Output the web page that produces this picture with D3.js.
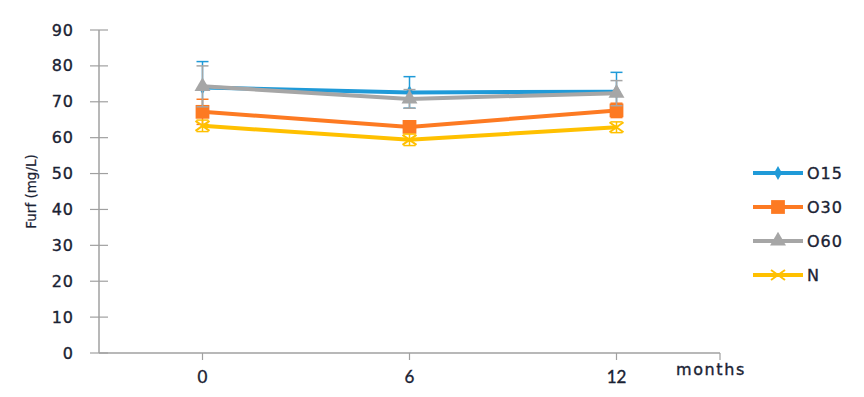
<!DOCTYPE html>
<html>
<head>
<meta charset="utf-8">
<script src="https://cdn.jsdelivr.net/npm/d3@7"></script>
<style>
  body { margin: 0; background: #fff; }
  svg text { fill: #1a2233; stroke: #1a2233; stroke-width: 0.35; }
</style>
</head>
<body>
<div id="chart"></div>
<script>
var months = ['0', '6', '12'];
var yTicks = [0, 10, 20, 30, 40, 50, 60, 70, 80, 90];
var seriesNames = ['O15', 'O30', 'O60', 'N'];
var o15 = [74.0, 72.6, 72.8];
var o15Err = [7.2, 4.4, 5.4];
var o30 = [67.2, 63.0, 67.6];
var o30Err = [3.5, 1.5, 2.0];
var o60 = [74.3, 70.8, 72.4];
var o60Err = [5.7, 2.6, 3.5];
var nVals = [63.3, 59.4, 62.9];
var nErr = [1.6, 1.6, 1.5];

var colors = ['#1f9ad8', '#fd7a22', '#a6a6a6', '#ffc000'];
var symbols = ['diamond', 'square', 'triangle', 'x'];
var series = [
  { name: seriesNames[0], values: o15, err: o15Err },
  { name: seriesNames[1], values: o30, err: o30Err },
  { name: seriesNames[2], values: o60, err: o60Err },
  { name: seriesNames[3], values: nVals, err: nErr }
];

var width = 864, height = 397;
var svg = d3.select('#chart')
    .append('svg')
    .attr('width', width)
    .attr('height', height);

var x = d3.scalePoint()
    .domain(months)
    .range([99, 720])
    .padding(0.5);
var y = d3.scaleLinear()
    .domain([0, 90])
    .range([353, 30]);

// y axis
var yAxis = svg.append('g').attr('transform', 'translate(99,0)');
yAxis.append('line')
    .attr('y1', y(0)).attr('y2', y(90))
    .attr('stroke', '#a0a0a0').attr('stroke-width', 1.5);
yAxis.selectAll('line.tick')
    .data(yTicks)
    .enter()
    .append('line')
    .classed('tick', true)
    .attr('x1', -9).attr('x2', 9)
    .attr('y1', function (d) { return y(d); })
    .attr('y2', function (d) { return y(d); })
    .attr('stroke', '#a0a0a0').attr('stroke-width', 1.2);
yAxis.selectAll('text')
    .data(yTicks)
    .enter()
    .append('text')
    .attr('x', -25)
    .attr('y', function (d) { return y(d); })
    .attr('text-anchor', 'end')
    .attr('dominant-baseline', 'central')
    .attr('font-family', 'DejaVu Sans, sans-serif')
    .attr('font-size', 16)
    .attr('letter-spacing', 1)
    .text(function (d) { return d; });

svg.append('text')
    .attr('transform', 'translate(31,' + y(45) + ') rotate(-90)')
    .attr('text-anchor', 'middle')
    .attr('dominant-baseline', 'central')
    .attr('font-family', 'DejaVu Sans, sans-serif')
    .attr('font-size', 13.5)
    .style('stroke-width', 0.2)
    .text('Furf (mg/L)');

// x axis
var xAxis = svg.append('g').attr('transform', 'translate(0,' + y(0) + ')');
xAxis.append('line')
    .attr('x1', 99).attr('x2', 720)
    .attr('stroke', '#a0a0a0').attr('stroke-width', 1.5);
xAxis.selectAll('line.tick')
    .data(months.map(function (m) { return x(m); }).concat([720]))
    .enter()
    .append('line')
    .classed('tick', true)
    .attr('x1', function (d) { return d; })
    .attr('x2', function (d) { return d; })
    .attr('y1', 0).attr('y2', 7)
    .attr('stroke', '#a0a0a0').attr('stroke-width', 1.2);
xAxis.selectAll('text')
    .data(months)
    .enter()
    .append('text')
    .attr('x', function (d) { return x(d); })
    .attr('y', 23)
    .attr('text-anchor', 'middle')
    .attr('dominant-baseline', 'central')
    .attr('font-family', 'Lato, sans-serif')
    .attr('font-size', 17)
    .text(function (d) { return d; });
svg.append('text')
    .attr('x', 676)
    .attr('y', 369)
    .attr('dominant-baseline', 'central')
    .attr('font-family', 'DejaVu Sans, sans-serif')
    .attr('font-size', 16)
    .attr('letter-spacing', 1.6)
    .text('months');

function drawMarker(g, type, color, cx, cy) {
  if (type === 'x') {
    g.append('path')
        .attr('d', 'M' + (cx - 7) + ',' + (cy - 5) + 'L' + (cx + 7) + ',' + (cy + 5) +
          'M' + (cx - 7) + ',' + (cy + 5) + 'L' + (cx + 7) + ',' + (cy - 5))
        .attr('stroke', color).attr('stroke-width', 2).attr('fill', 'none');
    return;
  }
  var sym = { diamond: d3.symbolDiamond, square: d3.symbolSquare, triangle: d3.symbolTriangle }[type];
  var size = { diamond: 55, square: 190, triangle: 110 }[type];
  g.append('path')
      .attr('transform', 'translate(' + cx + ',' + cy + ')')
      .attr('d', d3.symbol().type(sym).size(size)())
      .attr('fill', color);
}

var line = d3.line()
    .x(function (d, i) { return x(months[i]); })
    .y(function (d) { return y(d); });

var plot = svg.append('g');
series.forEach(function (s, k) {
  var g = plot.append('g');
  var c = colors[k];
  s.values.forEach(function (v, i) {
    var cx = x(months[i]);
    g.append('line')
        .attr('x1', cx).attr('x2', cx)
        .attr('y1', y(v - s.err[i])).attr('y2', y(v + s.err[i]))
        .attr('stroke', c).attr('stroke-width', 1.5);
    [v - s.err[i], v + s.err[i]].forEach(function (e) {
      g.append('line')
          .attr('x1', cx - 6).attr('x2', cx + 6)
          .attr('y1', y(e)).attr('y2', y(e))
          .attr('stroke', c).attr('stroke-width', 1.5);
    });
  });
  g.append('path')
      .datum(s.values)
      .attr('d', line)
      .attr('fill', 'none')
      .attr('stroke', c)
      .attr('stroke-width', 4);
  s.values.forEach(function (v, i) {
    drawMarker(g, symbols[k], c, x(months[i]), y(v));
  });
});

// legend
var legend = svg.append('g');
series.forEach(function (s, k) {
  var ly = 173 + k * 34;
  var g = legend.append('g');
  g.append('line')
      .attr('x1', 753).attr('x2', 803)
      .attr('y1', ly).attr('y2', ly)
      .attr('stroke', colors[k]).attr('stroke-width', 4);
  drawMarker(g, symbols[k], colors[k], 778, ly);
  g.append('text')
      .attr('x', 807)
      .attr('y', ly)
      .attr('dominant-baseline', 'central')
      .attr('font-family', 'DejaVu Sans, sans-serif')
      .attr('font-size', 16)
      .attr('letter-spacing', 1)
      .text(s.name);
});
</script>
</body>
</html>
